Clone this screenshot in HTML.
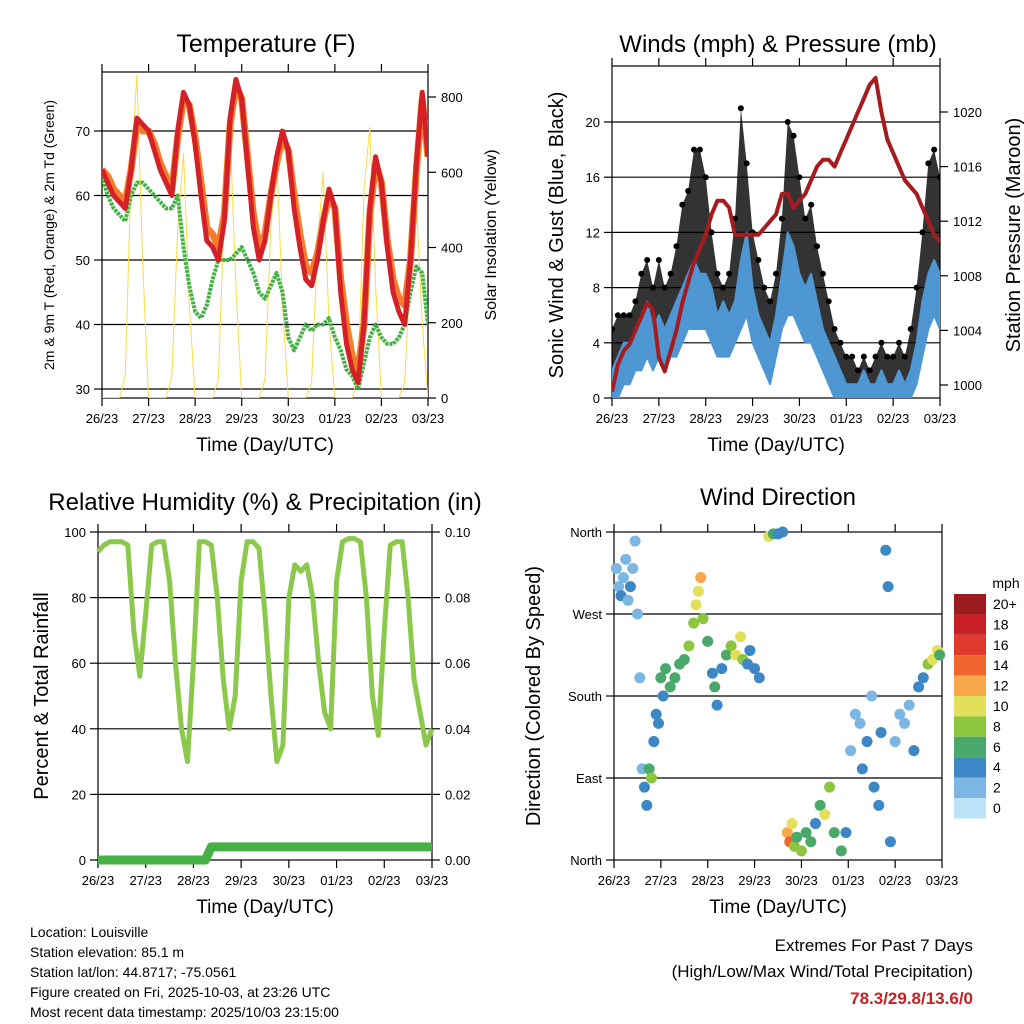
<!DOCTYPE html>
<html><head><meta charset="utf-8"><style>
body{margin:0;background:#fff;}
svg{display:block;font-family:"Liberation Sans",sans-serif;}
</style></head><body>
<svg id="c" width="1024" height="1024" viewBox="0 0 1024 1024"></svg>
<script>
// ---- data (3-hour samples, 7 days, 57 points) ----
const dayLabels=["26/23","27/23","28/23","29/23","30/23","01/23","02/23","03/23"];
const temp2m=[64,62,60,59,58,64,72,71, 70,67,64,62,60,70,76,74, 68,60,53,52,50,56,72,78, 75,65,55,50,53,60,66,70, 67,58,52,47,46,50,56,61, 58,45,37,33,31,40,58,66, 62,52,45,42,40,50,65,76,66];
const temp9m=[64,63,61,60,59,64,71,70, 70,68,65,63,61,69,75,74, 69,62,55,54,52,57,71,77, 75,66,57,52,54,60,65,69, 67,60,54,49,48,51,56,60, 58,47,40,35,33,40,57,65, 62,53,47,44,43,50,64,75,66];
const dewpt=[63,60,58,57,56,60,62,62, 61,60,59,58,58,60,52,46, 42,41,43,47,50,50,50,51, 52,50,48,45,44,46,48,45, 38,36,38,40,39,40,40,41, 38,36,33,32,30,34,38,40, 38,37,37,38,40,45,49,48,40];
const solar=[0,0,0,0,60,600,860,350, 0,0,0,0,60,450,650,250, 0,0,0,0,50,500,700,300, 0,0,0,0,50,450,650,250, 0,0,0,0,40,400,600,200, 0,0,0,0,60,550,720,300, 0,0,0,0,40,350,520,200,0];
const windLow=[0,0,1,1,2,2,3,2, 3,2,3,3,4,5,5,5, 5,4,3,3,3,4,5,6, 4,3,2,1,3,5,6,6, 5,4,4,3,2,1,0,0, 0,0,0,0,0,0,0,0, 0,0,0,0,1,3,5,6,5];
const windMean=[2,3,4,4,5,6,7,5, 6,5,6,7,8,9,10,9, 9,8,6,7,6,7,10,12, 8,6,5,4,6,9,12,11, 9,8,9,7,5,4,3,2, 1,1,1,2,1,1,2,1, 1,2,1,2,4,7,9,10,9];
const gust=[5,6,6,6,7,9,10,8, 10,8,9,11,14,15,18,18, 16,12,9,8,9,13,21,17, 12,10,8,7,9,13,20,19, 16,13,14,11,9,7,5,4, 3,3,2,3,2,3,4,3, 3,4,3,5,8,12,17,18,16];
const pressure=[999.5,1001.5,1002.5,1003,1004,1005,1006,1005.5, 1002,1001,1002.5,1004,1006,1007.5,1009,1010, 1011,1012.5,1013.5,1013.5,1013,1011,1011,1011, 1011,1011,1011.5,1012,1012.5,1014,1014,1013, 1013.5,1014,1015,1016,1016.5,1016.5,1016,1017, 1018,1019,1020,1021,1022,1022.5,1020,1018, 1017,1016,1015,1014.5,1014,1013,1012,1011,1010.5];
const rh=[94,96,97,97,97,96,70,56, 75,96,97,97,85,60,40,30, 60,97,97,96,80,55,40,50, 85,97,97,95,75,50,30,35, 80,90,88,90,80,60,45,40, 85,97,98,98,97,80,50,38, 70,96,97,97,80,55,45,35,40];
const precip=[0,0,0,0,0,0,0,0, 0,0,0,0,0,0,0,0, 0,0,0,0.004,0.004,0.004,0.004,0.004, 0.004,0.004,0.004,0.004,0.004,0.004,0.004,0.004, 0.004,0.004,0.004,0.004,0.004,0.004,0.004,0.004, 0.004,0.004,0.004,0.004,0.004,0.004,0.004,0.004, 0.004,0.004,0.004,0.004,0.004,0.004,0.004,0.004,0.004];
const dirTime=[0.05,0.1,0.15,0.2,0.25,0.3,0.35,0.4,0.45,0.5,0.55,0.6,0.65,0.7,0.75,0.8,0.85,0.9,0.95,1.0,1.05,1.1,1.2,1.3,1.4,1.5,1.6,1.7,1.75,1.8,1.85,1.9,2.0,2.1,2.15,2.2,2.3,2.4,2.5,2.6,2.7,2.75,2.85,2.9,3.0,3.1,3.3,3.4,3.5,3.6,3.7,3.75,3.8,3.85,3.9,4.0,4.1,4.2,4.3,4.4,4.5,4.6,4.7,4.85,4.95,5.05,5.15,5.25,5.3,5.4,5.5,5.55,5.65,5.7,5.8,5.85,5.9,6.0,6.1,6.2,6.3,6.4,6.5,6.6,6.7,6.8,6.9,6.95];
const dirDeg=[320,300,290,310,330,285,300,320,350,270,200,100,80,60,100,90,130,160,150,200,180,210,190,200,215,220,235,260,280,295,310,265,240,205,190,170,210,225,235,225,245,220,215,230,210,200,355,358,358,360,30,20,40,15,25,10,30,20,40,60,50,80,30,10,30,120,160,150,100,130,180,80,60,140,340,300,20,130,160,150,170,120,190,200,215,220,230,225];
const dirSpd=[2,2,3,2,1,2,3,2,2,2,1,2,3,4,6,7,4,3,4,5,4,5,6,6,5,6,7,8,9,10,11,8,5,4,6,3,4,6,8,9,10,7,4,3,3,4,10,6,4,3,12,14,10,8,6,8,5,6,4,6,10,8,6,5,4,1,2,2,4,3,1,4,3,4,4,3,3,2,1,2,2,3,3,4,8,10,9,6];
const speedLabels=["20+","18","16","14","12","10","8","6","4","2","0"];
const speedColors=["#9b1b1e","#c62026","#e13a2c","#f0642d","#f8a848","#e3df5a","#8cc63f","#4aa86a","#3c87c4","#7cb6e2","#bbe2f6"];

const NS="http://www.w3.org/2000/svg";
const svg=document.getElementById('c');
function mk(tag,attrs,parent,name,inter){const e=document.createElementNS(NS,tag);for(const k in attrs)e.setAttribute(k,attrs[k]);


(parent||svg).appendChild(e);return e;}
function txt(s,x,y,size,name,opt){opt=opt||{};const t=mk('text',{x:x,y:y,'font-size':size,'text-anchor':opt.anchor||'middle',fill:opt.fill||'#000','font-weight':opt.bold?'bold':'normal'},opt.parent,name);
if(opt.rot)t.setAttribute('transform','rotate('+opt.rot+' '+x+' '+y+')');t.textContent=s;return t;}
function lin(d0,d1,r0,r1){return v=>r0+(v-d0)*(r1-r0)/(d1-d0);}
function frame(P,name){const g=mk('g',{},svg,name);
 mk('rect',{x:P.x0,y:P.y0,width:P.x1-P.x0,height:P.y1-P.y0,fill:'none',stroke:'#000','stroke-width':1.2},g,name+'-frame');
 const X=lin(0,7,P.x0,P.x1);
 for(let i=0;i<8;i++){const x=X(i);
  mk('line',{x1:x,x2:x,y1:P.y1,y2:P.y1+8,stroke:'#000','stroke-width':1.2},g,'x-tick');
  mk('line',{x1:x,x2:x,y1:P.y0,y2:P.y0-8,stroke:'#000','stroke-width':1.2},g,'x-tick-top');
  txt(dayLabels[i],x,P.y1+25,13,'x-tick-label',{parent:g});}
 txt('Time (Day/UTC)',(P.x0+P.x1)/2,P.y1+53,19,'x-axis-title',{parent:g});
 return {g,X};}
function yTicks(P,g,vals,labels,Y,grid,side){for(let i=0;i<vals.length;i++){const y=Y(vals[i]);
 if(side==='left'){mk('line',{x1:P.x0-8,x2:P.x0,y1:y,y2:y,stroke:'#000','stroke-width':1.2},g,'y-tick');
  if(grid&&y>P.y0+2&&y<P.y1-2)mk('line',{x1:P.x0,x2:P.x1,y1:y,y2:y,stroke:'#000','stroke-width':1.2},g,'grid-line');
  txt(labels[i],P.x0-12,y+5,13,'y-tick-label',{anchor:'end',parent:g});}
 else{mk('line',{x1:P.x1,x2:P.x1+8,y1:y,y2:y,stroke:'#000','stroke-width':1.2},g,'y2-tick');
  txt(labels[i],P.x1+13,y+5,13,'y2-tick-label',{anchor:'start',parent:g});}}}
function path(arr,X,Y){return arr.map((v,i)=>(i?'L':'M')+X(i/8).toFixed(1)+','+Y(v).toFixed(1)).join('');}

// ---- Panel 1: Temperature ----
{const P={x0:102,x1:428,y0:72,y1:398};const {g,X}=frame(P,'temperature-panel');
 const Y=lin(30,70,389,131), Ys=lin(0,800,398,97);
 yTicks(P,g,[30,40,50,60,70],['30','40','50','60','70'],Y,true,'left');
 yTicks(P,g,[0,200,400,600,800],['0','200','400','600','800'],Ys,false,'right');
 const cp=mk('clipPath',{id:'cp1'},g,'clip');mk('rect',{x:P.x0,y:P.y0,width:P.x1-P.x0,height:P.y1-P.y0},cp,'clip-rect');
 const s=mk('g',{'clip-path':'url(#cp1)'},g,'temperature-series');
 mk('path',{d:path(solar,X,Ys),fill:'none',stroke:'#f7dc4a','stroke-width':1},s,'solar-line');
 mk('path',{d:path(dewpt,X,Y),fill:'none',stroke:'#45b044','stroke-width':4,'stroke-linejoin':'round','stroke-dasharray':'3 1'},s,'dewpoint-line');
 mk('path',{d:path(temp9m,X,Y),fill:'none',stroke:'#f47c2a','stroke-width':7,'stroke-linejoin':'round'},s,'temp-9m-line');
 mk('path',{d:path(temp2m,X,Y),fill:'none',stroke:'#d42127','stroke-width':5,'stroke-linejoin':'round'},s,'temp-2m-line');
 txt('Temperature (F)',266,52,25,'chart-title');
 txt('2m & 9m T (Red, Orange) & 2m Td (Green)',54,235,14,'y-axis-title',{rot:-90});
 txt('Solar Insolation (Yellow)',496,235,16,'y2-axis-title',{rot:-90});}

// ---- Panel 2: Winds ----
{const P={x0:612,x1:940,y0:66,y1:398};const {g,X}=frame(P,'winds-panel');
 const Y=lin(0,20,398,122), Yp=lin(1000,1020,385,112);
 yTicks(P,g,[0,4,8,12,16,20],['0','4','8','12','16','20'],Y,true,'left');
 yTicks(P,g,[1000,1004,1008,1012,1016,1020],['1000','1004','1008','1012','1016','1020'],Yp,false,'right');
 const cp=mk('clipPath',{id:'cp2'},g,'clip');mk('rect',{x:P.x0,y:P.y0,width:P.x1-P.x0,height:P.y1-P.y0},cp,'clip-rect');
 const s=mk('g',{'clip-path':'url(#cp2)'},g,'wind-series');
 const band=(hi,lo)=>path(hi,X,Y)+lo.slice().reverse().map((v,j)=>'L'+X((lo.length-1-j)/8).toFixed(1)+','+Y(v).toFixed(1)).join('')+'Z';
 mk('path',{d:band(gust,windMean),fill:'#000','fill-opacity':0.8,stroke:'none'},s,'gust-area');
 gust.forEach((v,i)=>{mk('circle',{cx:X(i/8),cy:Y(v),r:3,fill:'#000'},s,'gust-point');});
 mk('path',{d:band(windMean,windLow),fill:'#4f97d3',stroke:'#4f97d3','stroke-width':2,'stroke-linejoin':'round'},s,'wind-area');
 mk('path',{d:path(pressure,X,Yp),fill:'none',stroke:'#a51c1f','stroke-width':4,'stroke-linejoin':'round'},s,'pressure-line');
 txt('Winds (mph) & Pressure (mb)',778,52,24,'chart-title');
 txt('Sonic Wind & Gust (Blue, Black)',563,235,20,'y-axis-title',{rot:-90});
 txt('Station Pressure (Maroon)',1020,235,20,'y2-axis-title',{rot:-90});}

// ---- Panel 3: RH & Precip ----
{const P={x0:98,x1:432,y0:532,y1:860};const {g,X}=frame(P,'humidity-panel');
 const Y=lin(0,100,860,532), Yr=lin(0,0.1,860,532);
 yTicks(P,g,[0,20,40,60,80,100],['0','20','40','60','80','100'],Y,true,'left');
 yTicks(P,g,[0,0.02,0.04,0.06,0.08,0.1],['0.00','0.02','0.04','0.06','0.08','0.10'],Yr,false,'right');
 mk('path',{d:path(rh,X,Y),fill:'none',stroke:'#8cc84b','stroke-width':5,'stroke-linejoin':'round'},g,'rh-line');
 mk('path',{d:path(precip,X,Yr),fill:'none',stroke:'#45b044','stroke-width':9,'stroke-linejoin':'round'},g,'precip-line');
 txt('Relative Humidity (%) & Precipitation (in)',265,510,24,'chart-title');
 txt('Percent & Total Rainfall',48,696,20,'y-axis-title',{rot:-90});}

// ---- Panel 4: Wind Direction ----
{const P={x0:614,x1:942,y0:532,y1:860};const {g,X}=frame(P,'wind-direction-panel');
 const Y=lin(0,360,860,532);
 yTicks(P,g,[0,90,180,270,360],['North','East','South','West','North'],Y,true,'left');
 const s=mk('g',{},g,'direction-points');
 dirTime.forEach((t,i)=>{const k=Math.max(0,10-Math.min(10,Math.round(dirSpd[i]/2)));
  mk('circle',{cx:X(t),cy:Y(dirDeg[i]),r:5.5,fill:speedColors[k]},s,'direction-point');});
 txt('Wind Direction',778,505,24,'chart-title');
 txt('Direction (Colored By Speed)',540,696,20,'y-axis-title',{rot:-90});
 const lg=mk('g',{},svg,'speed-legend');
 txt('mph',1006,588,14,'legend-title',{parent:lg});
 speedLabels.forEach((l,i)=>{const y=594+i*20.4;
  mk('rect',{x:954,y:y,width:32,height:20.4,fill:speedColors[i]},lg,'legend-swatch');
  txt(l,993,y+15,14,'legend-label',{anchor:'start',parent:lg});});}

// ---- footer text ----
const info=["Location: Louisville","Station elevation: 85.1 m","Station lat/lon: 44.8717; -75.0561","Figure created on Fri, 2025-10-03, at 23:26 UTC","Most recent data timestamp: 2025/10/03 23:15:00"];
info.forEach((s,i)=>txt(s,30,937+i*20,14,'station-info',{anchor:'start'}));
txt('Extremes For Past 7 Days',973,951,17,'extremes-title',{anchor:'end'});
txt('(High/Low/Max Wind/Total Precipitation)',973,977,17,'extremes-subtitle',{anchor:'end'});
txt('78.3/29.8/13.6/0',973,1004,17,'extremes-values',{anchor:'end',bold:true,fill:'#c62026'});
</script>
</body></html>
